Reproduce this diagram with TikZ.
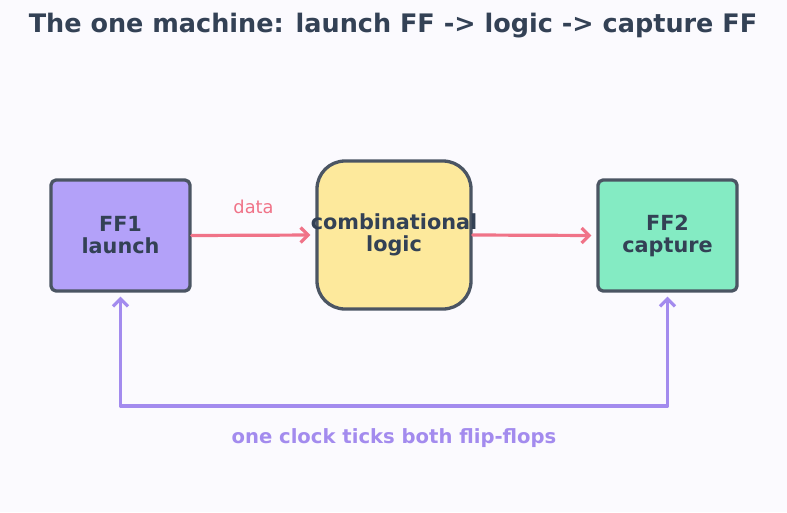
\documentclass[tikz,border=0pt]{standalone}
\usepackage{fontspec}
\setmainfont{DejaVu Sans}
\usetikzlibrary{arrows.meta}
\definecolor{bgcol}{HTML}{FBFAFE}
\definecolor{edgecol}{HTML}{4B5563}
\definecolor{inkcol}{HTML}{334155}
\definecolor{launchcol}{HTML}{B3A1F9}
\definecolor{logiccol}{HTML}{FDE99C}
\definecolor{capturecol}{HTML}{84EBC3}
\definecolor{datacol}{HTML}{F07388}
\definecolor{clockcol}{HTML}{A38BEE}

\begin{document}
\begin{tikzpicture}[x=1pt,y=-1pt,line cap=round,line join=round,
  ffbox/.style={draw=edgecol,line width=3.3pt,rounded corners=5pt,minimum width=139pt,
    minimum height=111pt,align=center,text=inkcol,font=\fontsize{20.8}{22}\selectfont\bfseries},
  logicbox/.style={ffbox,rounded corners=28pt,inner xsep=-10pt,minimum width=154pt,minimum height=148pt},
  dataarrow/.style={draw=datacol,line width=3.2pt,-{Straight Barb[length=7.5pt,width=15pt]}},
  clockline/.style={draw=clockcol,line width=3.2pt,{Straight Barb[length=7.5pt,width=15pt]}-{Straight Barb[length=7.5pt,width=15pt]}}]
%\clip (0,0) rectangle (787,512);
\fill[bgcol] (0,0) rectangle (787,512);
\node[text=inkcol,font=\fontsize{25.5}{28}\selectfont\bfseries] (title) at (393,26) {The one machine: launch FF -> logic -> capture FF};
\node[ffbox,fill=launchcol] (ff1) at (120.5,235.5) {FF1\\launch};
\node[logicbox,fill=logiccol] (logic) at (394,235) {combinational\\logic};
\node[ffbox,fill=capturecol] (ff2) at (667.5,235.5) {FF2\\capture};
\draw[dataarrow,shorten >=5pt] (ff1.east) -- (logic.west) node[midway,above=17pt,text=datacol,font=\fontsize{17.8}{20}\selectfont] (datalbl) {data};
\draw[dataarrow,shorten >=5pt] (logic.east) -- (ff2.west);
\coordinate (clkL) at (120.5,406);
\coordinate (clkR) at (667.5,406);
\draw[clockline,shorten <=4pt,shorten >=4pt] (ff1.south) -- (clkL) -- (clkR) -- (ff2.south);
\node[text=clockcol,font=\fontsize{19.6}{22}\selectfont\bfseries] (clocklbl) at (394,438) {one clock ticks both flip-flops};
\end{tikzpicture}
\end{document}
